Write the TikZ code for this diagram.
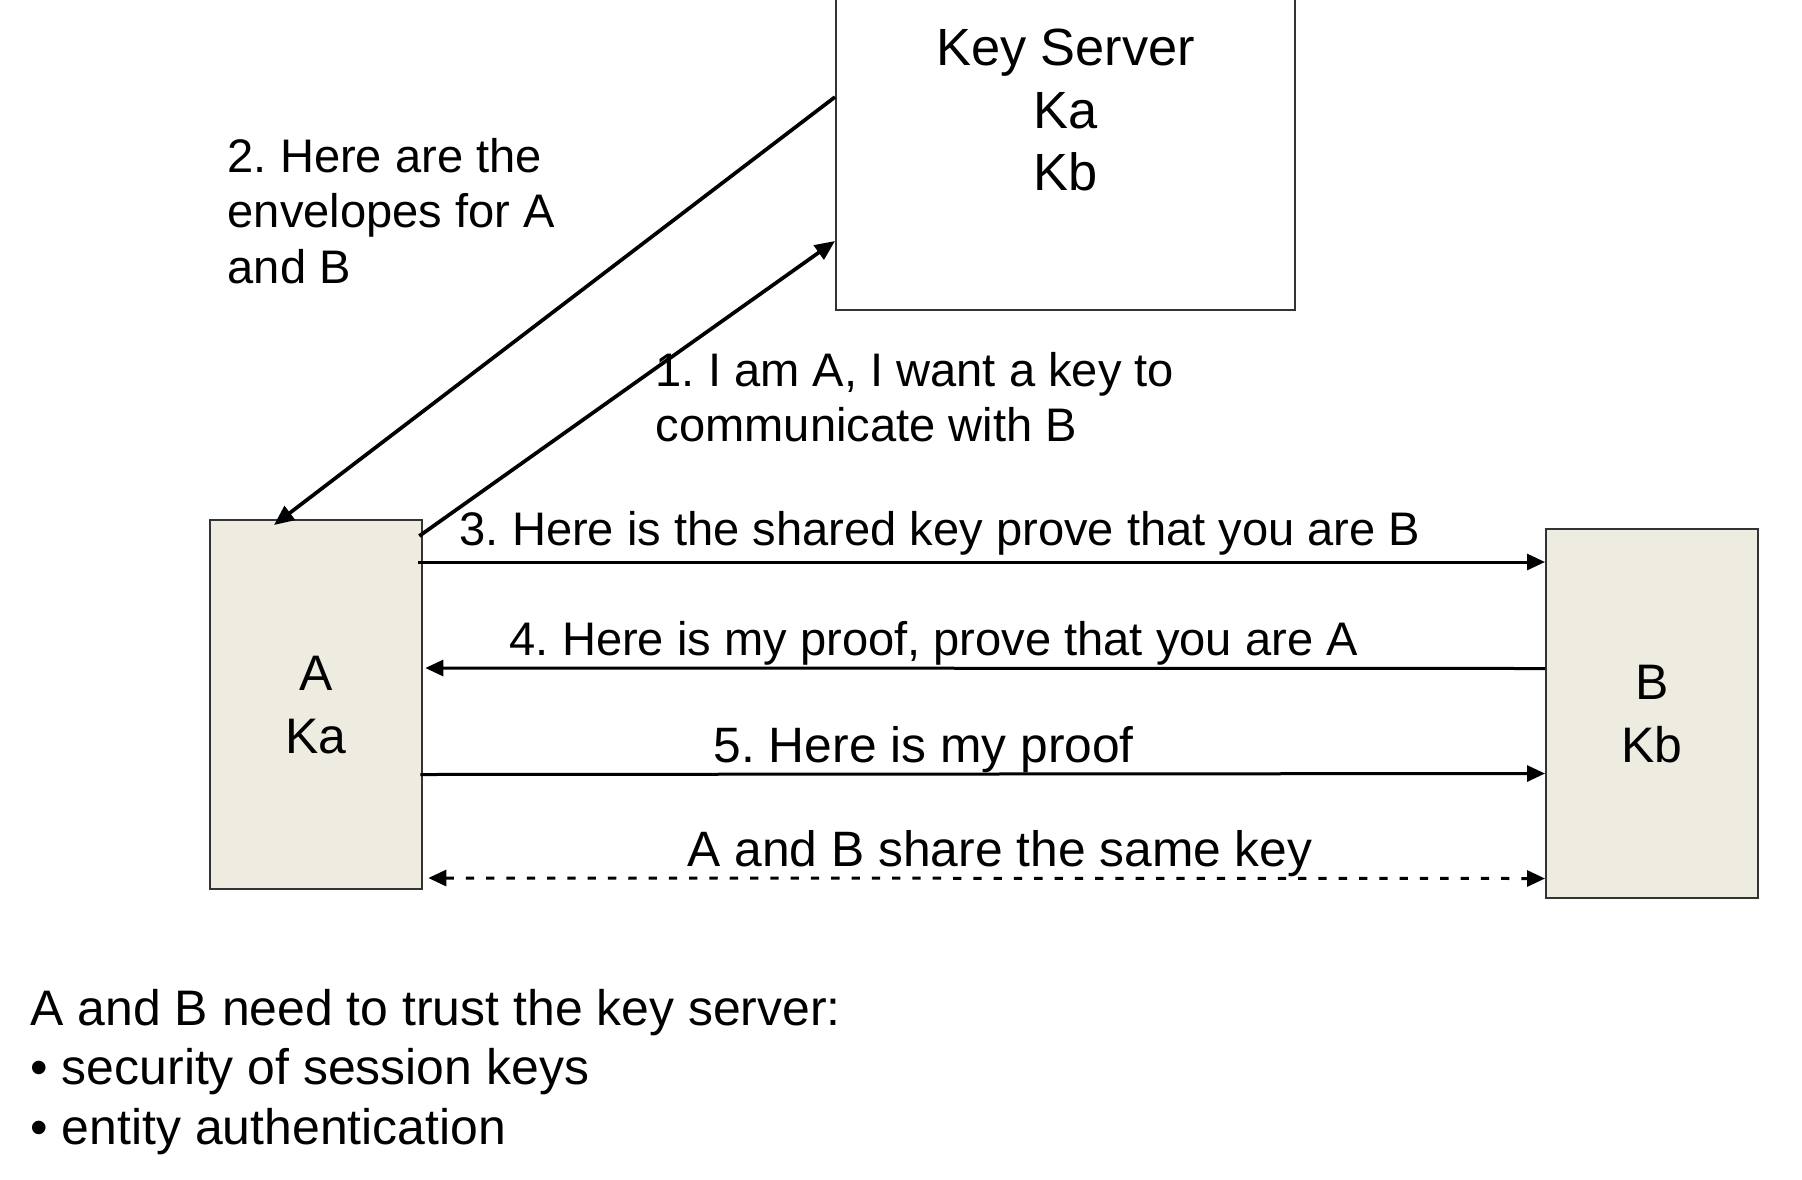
\documentclass[tikz,border=0pt]{standalone}
\usepackage{fontspec}
\setmainfont{Liberation Sans}
\usetikzlibrary{arrows.meta,calc,positioning}
\frenchspacing
\definecolor{partyfill}{RGB}{238,236,225}
\newcommand{\msgfont}{\fontsize{13.4pt}{15.8pt}\selectfont}
\newcommand{\bigmsgfont}{\fontsize{14.15pt}{16pt}\selectfont}
\newcommand{\boxfont}{\fontsize{14.2pt}{17.9pt}\selectfont}
\newcommand{\serverfont}{\fontsize{14.9pt}{17.8pt}\selectfont}
\newcommand{\notefont}{\fontsize{14.2pt}{16.9pt}\selectfont}
\tikzset{
    party/.style = {draw=black!80, fill=partyfill, rectangle, line width=0.23mm,
        minimum width=21.2mm, minimum height=36.9mm, inner sep=0pt,
        align=center, font=\boxfont},
    server/.style = {draw=black!80, fill=white, rectangle, line width=0.23mm,
        minimum width=45.9mm, minimum height=39.9mm, inner sep=0pt,
        align=center, font=\serverfont},
    msg/.style = {draw, line width=0.3mm, -{Triangle[length=1.8mm,width=1.6mm]}},
    req/.style = {draw, line width=0.37mm, -{Triangle[length=2mm,width=1.7mm]}},
    msgtext/.style = {anchor=base west, align=left, inner sep=0pt, font=\msgfont}
}

\begin{document}
\begin{tikzpicture}[x=0.1mm, y=-0.1mm]
    \useasboundingbox (0,0) rectangle (1802,1179);
    \node [server, anchor=south west] (ks) at (835,311) {Key Server\\Ka\\Kb};
    \node [party, anchor=north west] (a) at (209,519) {A\\Ka};
    \node [party, anchor=north west] (b) at (1545,528) {B\\Kb};

    \draw [req] ([shift={(-4,17)}]a.north east) -- ([shift={(0,-70)}]ks.south west);
    \draw [req] ([shift={(0,-214)}]ks.south west) -- ([shift={(65,6)}]a.north west);
    \draw [msg] ([shift={(-5,43)}]a.north east) -- ([shift={(0,34)}]b.north west);
    \draw [msg] ([shift={(0,140.5)}]b.north west) -- ([shift={(2,149)}]a.north east);
    \draw [msg] ([shift={(-3,255.5)}]a.north east) -- ([shift={(0,245.5)}]b.north west);
    \draw [msg, {Triangle[length=1.8mm,width=1.6mm]}-{Triangle[length=1.8mm,width=1.6mm]},
        dash pattern=on 0.83mm off 1.2mm]
        ([shift={(5,359)}]a.north east) -- ([shift={(0,350.5)}]b.north west);

    % multi-line texts: base is the last line
    \node [msgtext] (m1) at (655,441.7) {1. I am A, I want a key to\\communicate with B};
    \node [msgtext] (m2) at (227,283.3) {2. Here are the\\envelopes for A\\and B};
    \node [msgtext] (m3) at (459,545) {3. Here is the shared key prove that you are B};
    \node [msgtext] (m4) at (509,655.7) {4. Here is my proof, prove that you are A};
    \node [msgtext, font=\bigmsgfont] (m5) at (713,762.7) {5. Here is my proof};
    \node [msgtext, font=\bigmsgfont] (shared) at (687,866.7) {A and B share the same key};

    \node [msgtext, font=\notefont] (note) at (30,1144)
        {A and B need to trust the key server:\\• security of session keys\\• entity authentication};
\end{tikzpicture}
\end{document}
